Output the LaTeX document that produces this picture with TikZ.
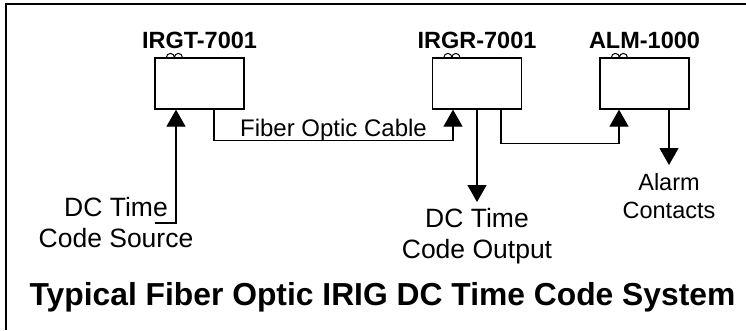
\documentclass[tikz,border=0pt]{standalone}
\usepackage{fontspec}
\setmainfont{Liberation Sans}
\usetikzlibrary{arrows.meta,positioning}

\begin{document}
\begin{tikzpicture}[
    x=1pt, y=-1pt,
    unit/.style={rectangle, draw, line width=1.2pt, minimum width=89pt, minimum height=51pt, inner sep=0pt},
    unitname/.style={font=\fontsize{23.5}{28}\selectfont\bfseries, anchor=base, inner sep=0pt},
    signal/.style={font=\fontsize{26.5}{31.5}\selectfont, align=center, inner sep=0pt, anchor=north},
    flow/.style={-{Triangle[width=19pt,length=17pt]}, line width=1.2pt},
    loops/.style={line width=1pt}
]
\useasboundingbox (0,0) rectangle (746,330);

% Frame
\draw[line width=1.5pt] (746,4) -- (6,4) -- (6,330);

% Units
\node[unit] (irgt) at (199.5,83.5) {};
\node[unit] (irgr) at (477,83.5) {};
\node[unit] (alm) at (644.5,83.5) {};

\node[unitname] (irgtname) at ([yshift=9pt]irgt.north) {IRGT-7001};
\node[unitname] (irgrname) at ([yshift=9pt]irgr.north) {IRGR-7001};
\node[unitname] (almname) at ([yshift=9pt]alm.north) {ALM-1000};

% Loops on top of units
\foreach \u in {irgt,irgr,alm}
  \draw[loops] ([xshift=12pt]\u.north west) arc (180:0:4pt) arc (180:0:4pt);

% Signals
\node[signal] (src) at (116,197) {DC Time\\Code Source};
\node[signal] (out) at (477,208) {DC Time\\Code Output};
\node[signal, font=\fontsize{23.5}{28}\selectfont] (alarm) at (669,173) {Alarm\\Contacts};
\coordinate (srcend) at (155,223);

% Connections
\draw[flow] (srcend) -| ([xshift=-23.5pt]irgt.south);
\draw[flow] ([xshift=14.5pt]irgt.south) -- ++(0,31)
  -| node[pos=0.25, anchor=base, yshift=4pt, font=\fontsize{24}{28}\selectfont] {Fiber Optic Cable} ([xshift=-24pt]irgr.south);
\draw[flow] (irgr.south) -- ([yshift=6pt]out.north);
\draw[flow] ([xshift=24pt]irgr.south) -- ++(0,34) -| ([xshift=-25.5pt]alm.south);
\draw[flow] ([xshift=24.5pt]alm.south) -- ([yshift=8pt]alarm.north);

% Title
\node[font=\fontsize{31.8}{38}\selectfont\bfseries, anchor=base] (title) at (382.5,305) {Typical Fiber Optic IRIG DC Time Code System};

\end{tikzpicture}
\end{document}
